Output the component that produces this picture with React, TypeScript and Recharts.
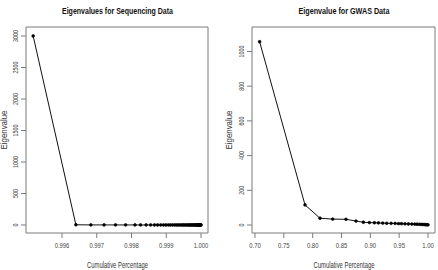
import React from "react";
import { LineChart, Line, XAxis, YAxis, ReferenceArea } from "recharts";

// ---- Data ----
const seqCumulative = [
  0.99517, 0.9964, 0.99683, 0.99721, 0.99754, 0.99783, 0.9981, 0.99826, 0.99842, 0.99855,
  0.99866, 0.99875, 0.99884, 0.99892, 0.99899, 0.99906, 0.99912, 0.99918, 0.99924, 0.99929,
  0.99934, 0.99939, 0.99944, 0.99948, 0.99952, 0.99956, 0.9996, 0.99964, 0.99967, 0.9997,
  0.99973, 0.99976, 0.99979, 0.99981, 0.99984, 0.99986, 0.99988, 0.9999, 0.99992, 0.99994,
  0.99995, 0.99997, 0.99998, 0.99999, 1.0,
];
const seqEigenvalues = [
  3000, 3.7, 1.3, 1.15, 1.0, 0.87, 0.81, 0.48, 0.48, 0.39,
  0.33, 0.27, 0.27, 0.24, 0.21, 0.21, 0.18, 0.18, 0.18, 0.15,
  0.15, 0.15, 0.15, 0.12, 0.12, 0.12, 0.12, 0.12, 0.09, 0.09,
  0.09, 0.09, 0.09, 0.06, 0.09, 0.06, 0.06, 0.06, 0.06, 0.06,
  0.03, 0.06, 0.03, 0.03, 0.03,
];

const gwasCumulative = [
  0.708, 0.7867, 0.8127, 0.8347, 0.8578, 0.8751, 0.8879, 0.8983, 0.907, 0.914,
  0.9214, 0.9283, 0.936, 0.943, 0.949, 0.954, 0.96, 0.966, 0.972, 0.977,
  0.981, 0.985, 0.988, 0.991, 0.994, 0.996, 0.998, 1.0,
];
const gwasEigenvalues = [
  1056, 116, 39, 34, 33, 23, 16, 14, 13, 12,
  11, 10, 9.5, 9, 8, 7.5, 7, 6, 5.5, 5,
  4.5, 4, 3.5, 3, 2.5, 2, 1.5, 1,
];

const seqXTicks = [0.996, 0.997, 0.998, 0.999, 1.0];
const seqYTicks = [0, 500, 1000, 1500, 2000, 2500, 3000];
const gwasXTicks = [0.7, 0.75, 0.8, 0.85, 0.9, 0.95, 1.0];
const gwasYTicks = [0, 200, 400, 600, 800, 1000];

const seqTitle = "Eigenvalues for Sequencing Data";
const gwasTitle = "Eigenvalue for GWAS Data";
const xLabel = "Cumulative Percentage";
const yLabel = "Eigenvalue";

const seqData = seqCumulative.map((x, i) => ({ x, y: seqEigenvalues[i] }));
const gwasData = gwasCumulative.map((x, i) => ({ x, y: gwasEigenvalues[i] }));

const FONT = "'Liberation Sans', Arial, Helvetica, sans-serif";
const BOX = "#7a7a7a";
const TICKTXT = "#444";

const textLen = (s: string) => {
  let l = 0;
  for (const c of s) l += c === "." ? 2.2 : 3.1;
  return l;
};

const makeXTick = (digits: number) => (props: any) => {
  const label = Number(props.payload.value).toFixed(digits);
  return (
    <text
      x={props.x}
      y={248}
      textAnchor="middle"
      fontFamily={FONT}
      fontSize={8}
      fill={TICKTXT}
      textLength={textLen(label)}
      lengthAdjust="spacingAndGlyphs"
    >
      {label}
    </text>
  );
};

const makeYTick = (baseX: number) => (props: any) => {
  const label = String(props.payload.value);
  return (
    <text
      transform={`translate(${baseX},${props.y}) rotate(-90)`}
      x={0}
      y={0}
      textAnchor="middle"
      fontFamily={FONT}
      fontSize={8}
      fill={TICKTXT}
      textLength={textLen(label) * 0.97}
      lengthAdjust="spacingAndGlyphs"
    >
      {label}
    </text>
  );
};

type PanelProps = {
  data: { x: number; y: number }[];
  xDomain: [number, number];
  yDomain: [number, number];
  xTicks: number[];
  yTicks: number[];
  xDigits: number;
  margin: { top: number; right: number; bottom: number; left: number };
  yTickBaseX: number;
};

const Panel = ({ data, xDomain, yDomain, xTicks, yTicks, xDigits, margin, yTickBaseX }: PanelProps) => (
  <LineChart width={219} height={270} data={data} margin={margin}>
    <XAxis
      dataKey="x"
      type="number"
      domain={xDomain}
      ticks={xTicks}
      allowDataOverflow
      interval={0}
      height={37}
      axisLine={false}
      tickLine={{ stroke: BOX }}
      tickSize={5}
      tick={makeXTick(xDigits)}
    />
    <YAxis
      type="number"
      domain={yDomain}
      ticks={yTicks}
      allowDataOverflow
      interval={0}
      width={26}
      axisLine={false}
      tickLine={{ stroke: BOX }}
      tickSize={5}
      tick={makeYTick(yTickBaseX)}
    />
    <ReferenceArea
      x1={xDomain[0]}
      x2={xDomain[1]}
      y1={yDomain[0]}
      y2={yDomain[1]}
      fill="none"
      fillOpacity={0}
      stroke={BOX}
      strokeWidth={1}
      ifOverflow="visible"
    />
    <Line
      dataKey="y"
      type="linear"
      stroke="#111"
      strokeWidth={1}
      dot={{ r: 1.4, fill: "#000", stroke: "#000", strokeWidth: 0.6 }}
      isAnimationActive={false}
    />
  </LineChart>
);

export default function App() {
  return (
    <div
      style={{
        position: "fixed",
        left: 0,
        top: 0,
        width: 438,
        height: 270,
        background: "#fff",
        overflow: "hidden",
      }}
    >
      <div style={{ position: "absolute", left: 0, top: 0 }}>
        <Panel
          data={seqData}
          xDomain={[0.994964, 1.000201]}
          yDomain={[-127, 3143]}
          xTicks={seqXTicks}
          yTicks={seqYTicks}
          xDigits={3}
          margin={{ top: 27, right: 11, bottom: 0, left: 0 }}
          yTickBaseX={17.5}
        />
      </div>
      <div style={{ position: "absolute", left: 219, top: 0 }}>
        <Panel
          data={gwasData}
          xDomain={[0.6948, 1.0121]}
          yDomain={[-46, 1141]}
          xTicks={gwasXTicks}
          yTicks={gwasYTicks}
          xDigits={2}
          margin={{ top: 27, right: 3, bottom: 0, left: 7 }}
          yTickBaseX={24.5}
        />
      </div>
      <svg
        width={438}
        height={270}
        style={{ position: "absolute", left: 0, top: 0, pointerEvents: "none" }}
      >
        <text x={117.5} y={13.5} textAnchor="middle" fontFamily={FONT} fontSize={8.5} fontWeight="bold" fill="#111" textLength={111} lengthAdjust="spacingAndGlyphs">
          {seqTitle}
        </text>
        <text x={344} y={13.5} textAnchor="middle" fontFamily={FONT} fontSize={8.5} fontWeight="bold" fill="#111" textLength={91} lengthAdjust="spacingAndGlyphs">
          {gwasTitle}
        </text>
        <text x={117.5} y={267.5} textAnchor="middle" fontFamily={FONT} fontSize={8.4} fill="#333" textLength={61} lengthAdjust="spacingAndGlyphs">
          {xLabel}
        </text>
        <text x={344} y={267.5} textAnchor="middle" fontFamily={FONT} fontSize={8.4} fill="#333" textLength={61} lengthAdjust="spacingAndGlyphs">
          {xLabel}
        </text>
        <text transform="translate(7,130) rotate(-90)" textAnchor="middle" fontFamily={FONT} fontSize={8.4} fill="#333" textLength={39} lengthAdjust="spacingAndGlyphs">
          {yLabel}
        </text>
        <text transform="translate(232,130) rotate(-90)" textAnchor="middle" fontFamily={FONT} fontSize={8.4} fill="#333" textLength={39} lengthAdjust="spacingAndGlyphs">
          {yLabel}
        </text>
      </svg>
    </div>
  );
}
